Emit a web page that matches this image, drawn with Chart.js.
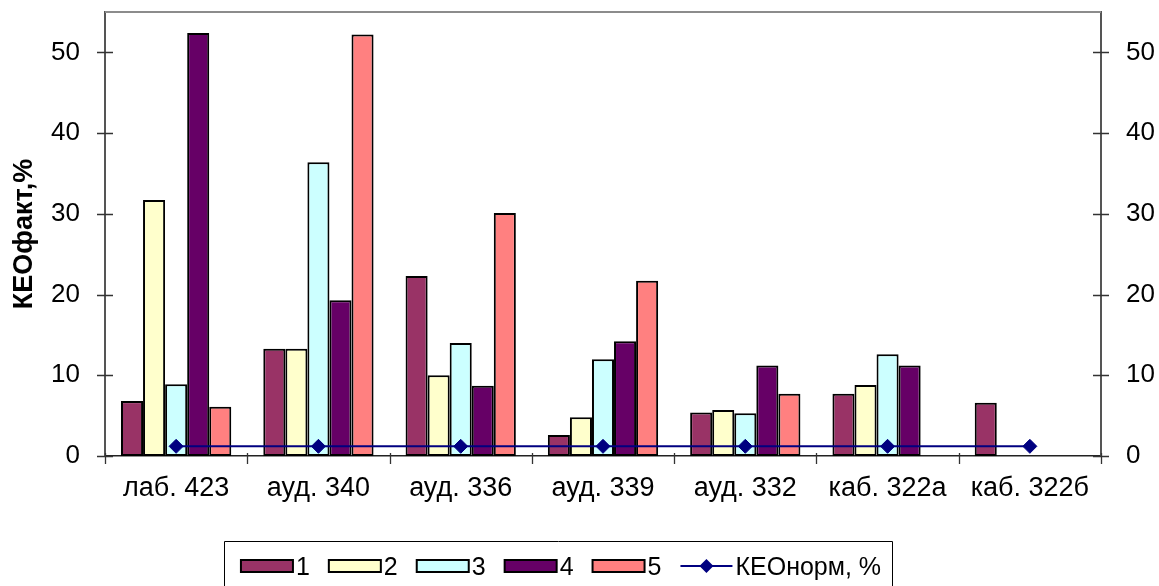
<!DOCTYPE html>
<html>
<head>
<meta charset="utf-8">
<script src="https://cdn.jsdelivr.net/npm/chart.js@4/dist/chart.umd.min.js"></script>
<style>
  html, body { margin: 0; padding: 0; background: #fff; }
  #wrap { width: 1159px; height: 586px; }
</style>
</head>
<body>
<div id="wrap"><canvas id="c" width="1159" height="586"></canvas></div>
<script>
// Rooms and measured daylight factor values (КЕО, %)
const rooms = ['лаб. 423', 'ауд. 340', 'ауд. 336', 'ауд. 339', 'ауд. 332', 'каб. 322а', 'каб. 322б'];
const series1 = [6.8, 13.3, 22.3, 2.6, 5.4, 7.7, 6.6];
const series2 = [31.7, 13.3, 10.0, 4.8, 5.7, 8.8, null];
const series3 = [8.9, 36.4, 14.0, 12.0, 5.3, 12.6, null];
const series4 = [52.4, 19.3, 8.7, 14.2, 11.2, 11.2, null];
const series5 = [6.1, 52.2, 30.1, 21.7, 7.7, null, null];
const keoNorm = [1.2, 1.2, 1.2, 1.2, 1.2, 1.2, 1.2];
const seriesNames = ['1', '2', '3', '4', '5'];
const normName = 'КЕОнорм, %';
const yTicks = [0, 10, 20, 30, 40, 50];
const yMax = 55;

const FONT = "'Liberation Sans', Arial, sans-serif";
const barColors = ['#993366', '#FFFFCC', '#CCFFFF', '#660066', '#FF8080'];
const normColor = '#000080';

Chart.defaults.font.family = FONT;

const barSeries = [series1, series2, series3, series4, series5];
const datasets = barSeries.map((vals, i) => ({
  type: 'bar',
  label: seriesNames[i],
  data: vals,
  backgroundColor: barColors[i],
  borderColor: '#000',
  borderWidth: 2,
  borderSkipped: false,
  categoryPercentage: 0.775,
  barPercentage: 1.0,
  order: 1,
  yAxisID: 'y'
}));
datasets.push({
  type: 'line',
  label: normName,
  data: keoNorm,
  borderColor: normColor,
  borderWidth: 2,
  pointStyle: 'rectRot',
  pointRadius: 7,
  pointBackgroundColor: normColor,
  pointBorderColor: normColor,
  pointBorderWidth: 1,
  fill: false,
  tension: 0,
  order: 0,
  yAxisID: 'y'
});

// Frame, crossing tick marks and the boxed legend
const framePlugin = {
  id: 'framePlugin',
  afterDraw(chart) {
    const ctx = chart.ctx;
    const a = chart.chartArea;
    const ys = chart.scales.y;
    ctx.save();
    // top edge of the plot frame
    ctx.strokeStyle = '#8c8c8c';
    ctx.lineWidth = 2;
    ctx.beginPath();
    ctx.moveTo(a.left, a.top);
    ctx.lineTo(a.right, a.top);
    ctx.stroke();

    // cross ticks on both value axes
    ctx.strokeStyle = '#333';
    ctx.lineWidth = 1.3;
    ys.ticks.forEach(t => {
      const py = Math.round(ys.getPixelForValue(t.value)) + 0.5;
      ctx.beginPath();
      ctx.moveTo(a.left - 8, py); ctx.lineTo(a.left + 8, py);
      ctx.moveTo(a.right - 8, py); ctx.lineTo(a.right + 8, py);
      ctx.stroke();
    });
    // category boundary ticks
    const n = rooms.length;
    const w = (a.right - a.left) / n;
    for (let i = 0; i <= n; i++) {
      const px = Math.round(a.left + i * w) + 0.5;
      ctx.beginPath();
      ctx.moveTo(px, a.bottom - 3); ctx.lineTo(px, a.bottom + 8);
      ctx.stroke();
    }

    // legend
    ctx.font = '25px ' + FONT;
    const boxW = 52, boxH = 12, textGap = 3, itemGap = 19;
    const items = chart.data.datasets.map(d => ({ ds: d, tw: ctx.measureText(d.label).width }));
    let total = 0;
    items.forEach((it, i) => { total += boxW + textGap + it.tw + (i < items.length - 1 ? itemGap : 0); });
    const cx = 558;
    let x = cx - total / 2 + 3;
    const cy = 566, base = 575;
    const frameLeft = Math.round(x - 17) + 0.5;
    items.forEach(it => {
      const d = it.ds;
      if (d.type === 'bar') {
        ctx.fillStyle = d.backgroundColor;
        ctx.fillRect(x, cy - boxH / 2, boxW, boxH);
        ctx.strokeStyle = '#000';
        ctx.lineWidth = 2;
        ctx.strokeRect(x, cy - boxH / 2, boxW, boxH);
      } else {
        ctx.strokeStyle = d.borderColor;
        ctx.lineWidth = 2;
        ctx.beginPath();
        ctx.moveTo(x, cy); ctx.lineTo(x + boxW, cy);
        ctx.stroke();
        ctx.fillStyle = d.pointBackgroundColor;
        const r = 7, mx = x + boxW / 2;
        ctx.beginPath();
        ctx.moveTo(mx - r, cy); ctx.lineTo(mx, cy - r); ctx.lineTo(mx + r, cy); ctx.lineTo(mx, cy + r);
        ctx.closePath();
        ctx.fill();
      }
      ctx.fillStyle = '#000';
      ctx.textAlign = 'left';
      ctx.textBaseline = 'alphabetic';
      ctx.fillText(d.label, x + boxW + textGap, base);
      x += boxW + textGap + it.tw + itemGap;
    });
    const frameRight = Math.round(x - itemGap + 11) + 0.5;
    ctx.strokeStyle = '#000';
    ctx.lineWidth = 1;
    ctx.beginPath();
    ctx.moveTo(frameLeft, chart.height + 2);
    ctx.lineTo(frameLeft, 541.5);
    ctx.lineTo(frameRight, 541.5);
    ctx.lineTo(frameRight, chart.height + 2);
    ctx.stroke();
    ctx.restore();
  }
};

const valueTicks = (s) => { s.ticks = yTicks.map(v => ({ value: v })); };

new Chart(document.getElementById('c'), {
  data: { labels: rooms, datasets },
  options: {
    responsive: false,
    devicePixelRatio: 1,
    animation: false,
    layout: { padding: { top: 12, left: 0, right: 0, bottom: 0 } },
    plugins: {
      legend: { display: false },
      tooltip: { enabled: false }
    },
    scales: {
      x: {
        type: 'category',
        offset: true,
        grid: { display: false, drawTicks: false },
        border: { display: true, color: '#222', width: 1.5 },
        ticks: {
          color: '#000',
          font: { size: 27 },
          padding: 16,
          maxRotation: 0,
          autoSkip: false
        },
        afterFit(s) { s.height = 130; s.paddingLeft = 0; s.paddingRight = 0; }
      },
      y: {
        position: 'left',
        min: 0,
        max: yMax,
        afterBuildTicks: valueTicks,
        grid: { display: false, drawTicks: false },
        border: { display: true, color: '#555', width: 2 },
        ticks: { color: '#000', font: { size: 26 }, padding: 25 },
        title: {
          display: true,
          text: 'КЕОфакт,%',
          color: '#000',
          font: { size: 27, weight: 'bold' },
          padding: { top: 8, bottom: 0 }
        },
        afterFit(s) { s.width = 105; s.paddingTop = 0; s.paddingBottom = 0; }
      },
      y2: {
        position: 'right',
        min: 0,
        max: yMax,
        afterBuildTicks: valueTicks,
        grid: { display: false, drawTicks: false },
        border: { display: true, color: '#555', width: 2 },
        ticks: { color: '#000', font: { size: 26 }, padding: 25 },
        afterFit(s) { s.width = 58; s.paddingTop = 0; s.paddingBottom = 0; }
      }
    }
  },
  plugins: [framePlugin]
});
</script>
</body>
</html>
